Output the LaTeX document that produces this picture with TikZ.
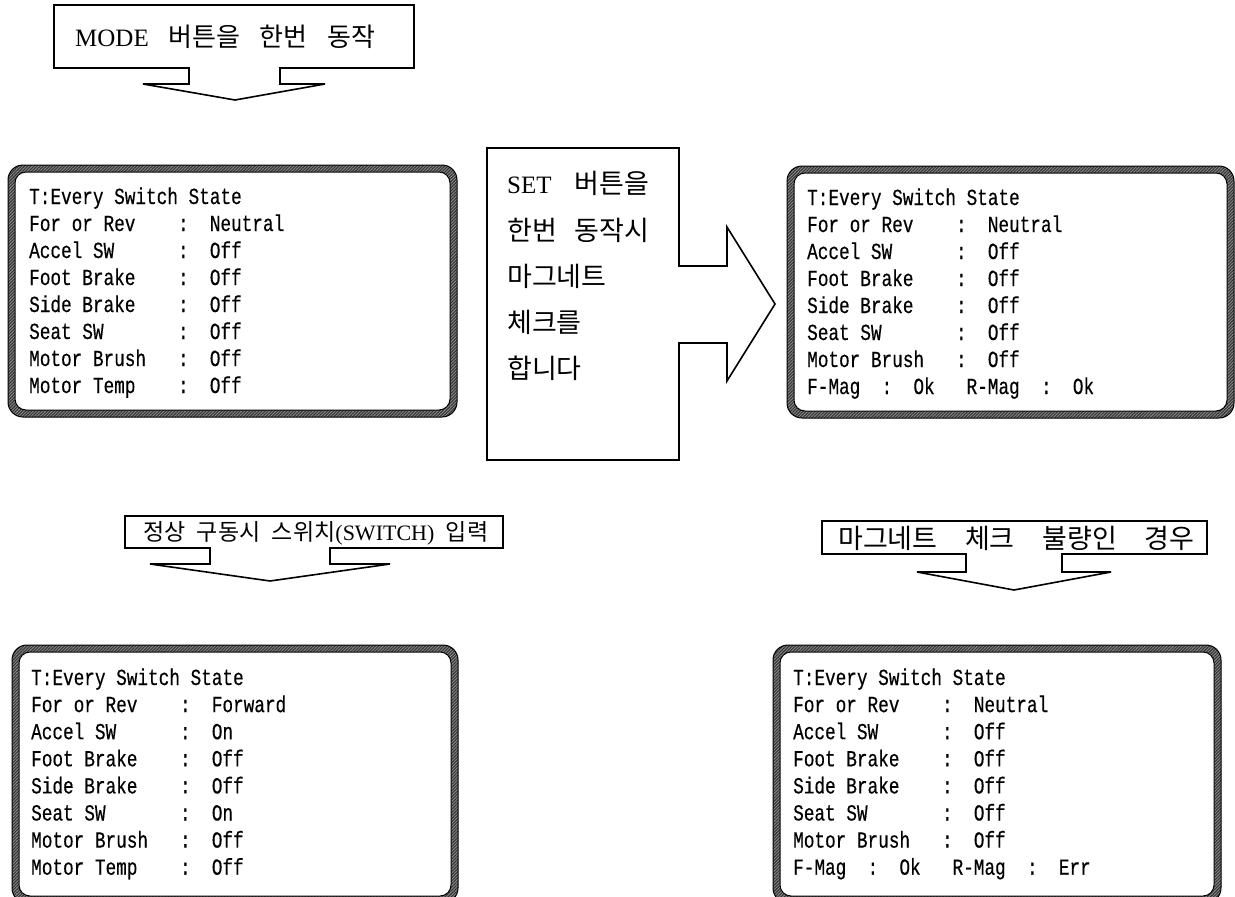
\documentclass[tikz,border=0pt]{standalone}
\usepackage{fontspec}
\setmainfont{Liberation Serif}
\newfontfamily\kr{Noto Sans CJK KR}
\newfontfamily\disp[FakeStretch=0.77,FakeBold=0.4]{Liberation Mono}
\usetikzlibrary{patterns.meta}
\newcommand\ko[2][26]{{\kr\fontsize{#1}{30}\selectfont #2}}
\begin{document}
\begin{tikzpicture}[x=1pt,y=-1pt,
  callout/.style={draw=black, line width=1.6pt, fill=white, line join=miter},
  ctext/.style={inner sep=0pt, anchor=west, font=\fontsize{25}{28}\selectfont},
  disptext/.style={inner sep=0pt, anchor=base west, font=\disp\fontsize{23}{27}\selectfont},
  frameout/.style={rounded corners=15pt, preaction={fill=black!45}, pattern={Lines[angle=45,distance=2.2pt,line width=1.1pt]}, pattern color=black!80, draw=black, line width=1pt},
  framein/.style={rounded corners=11pt, fill=white, draw=black, line width=1pt}]
\useasboundingbox (0,0) rectangle (1235,897);

% ---- callout 1: MODE
\draw[callout] (54,5) -- (414,5) -- (414,68) -- (280,68) -- (280,84) -- (325,84) -- (235,100) -- (143,84) -- (189,84) -- (189,68) -- (54,68) -- cycle;
\node[ctext] (c1) at (75,37) {\makebox[300pt][l]{MODE\hfill\ko{버튼을}\hfill\ko{한번}\hfill\ko{동작}}};

% ---- SET callout
\draw[callout] (487,148) -- (679,148) -- (679,266) -- (727,266) -- (727,227) -- (775,304) -- (727,381) -- (727,343) -- (679,343) -- (679,460) -- (487,460) -- cycle;
\node[ctext] (s1) at (507,183) {\makebox[142pt][l]{SET\hfill\ko[27]{버튼을}}};
\node[ctext] (s2) at (507,230) {\makebox[142pt][l]{\ko[27]{한번}\hfill\ko[27]{동작시}}};
\node[ctext] (s3) at (507,276) {\ko[27]{마그네트}};
\node[ctext] (s4) at (507,322) {\ko[27]{체크를}};
\node[ctext] (s5) at (507,368) {\ko[27]{합니다}};

% ---- callout 2
\draw[callout] (125,516) -- (503,516) -- (503,548) -- (330,548) -- (330,564) -- (390,564) -- (270,581) -- (150,564) -- (210,564) -- (210,548) -- (125,548) -- cycle;
\node[ctext, font=\fontsize{22}{26}\selectfont] (c2) at (143,533) {\makebox[345pt][l]{\ko[23]{정상}\hfill\ko[23]{구동시}\hfill\ko[23]{스위치}(SWITCH)\hfill\ko[23]{입력}}};

% ---- callout 3
\draw[callout] (822,521) -- (1207,521) -- (1207,554) -- (1062,554) -- (1062,572) -- (1111,572) -- (1014,590) -- (917,572) -- (966,572) -- (966,554) -- (822,554) -- cycle;
\node[ctext] (c3) at (838,538) {\makebox[356pt][l]{\ko[27]{마그네트}\hfill\ko[27]{체크}\hfill\ko[27]{불량인}\hfill\ko[27]{경우}}};

% ---- screens
\draw[frameout] (8,165) rectangle (457,417);
\draw[framein] (15,172) rectangle (450,410);
\draw[frameout] (787,166) rectangle (1234,418);
\draw[framein] (794,173) rectangle (1227,411);
\draw[frameout] (12,645) rectangle (458,903);
\draw[framein] (19,652) rectangle (451,896);
\draw[frameout] (773,645) rectangle (1221,903);
\draw[framein] (780,652) rectangle (1214,896);

\foreach \t [count=\i from 0] in {{T:Every~Switch~State},{For~or~Rev~~~~:~~Neutral},{Accel~SW~~~~~~:~~Off},{Foot~Brake~~~~:~~Off},{Side~Brake~~~~:~~Off},{Seat~SW~~~~~~~:~~Off},{Motor~Brush~~~:~~Off},{Motor~Temp~~~~:~~Off}}
  \node[disptext] (a\i) at (29,{204+27*\i}) {\t};

\foreach \t [count=\i from 0] in {{T:Every~Switch~State},{For~or~Rev~~~~:~~Neutral},{Accel~SW~~~~~~:~~Off},{Foot~Brake~~~~:~~Off},{Side~Brake~~~~:~~Off},{Seat~SW~~~~~~~:~~Off},{Motor~Brush~~~:~~Off},{F-Mag~~:~~Ok~~~R-Mag~~:~~Ok}}
  \node[disptext] (b\i) at (807,{205+27*\i}) {\t};

\foreach \t [count=\i from 0] in {{T:Every~Switch~State},{For~or~Rev~~~~:~~Forward},{Accel~SW~~~~~~:~~On},{Foot~Brake~~~~:~~Off},{Side~Brake~~~~:~~Off},{Seat~SW~~~~~~~:~~On},{Motor~Brush~~~:~~Off},{Motor~Temp~~~~:~~Off}}
  \node[disptext] (c\i) at (31,{685+27.1*\i}) {\t};

\foreach \t [count=\i from 0] in {{T:Every~Switch~State},{For~or~Rev~~~~:~~Neutral},{Accel~SW~~~~~~:~~Off},{Foot~Brake~~~~:~~Off},{Side~Brake~~~~:~~Off},{Seat~SW~~~~~~~:~~Off},{Motor~Brush~~~:~~Off},{F-Mag~~:~~Ok~~~R-Mag~~:~~Err}}
  \node[disptext] (d\i) at (793,{685+27.1*\i}) {\t};
\end{tikzpicture}
\end{document}
